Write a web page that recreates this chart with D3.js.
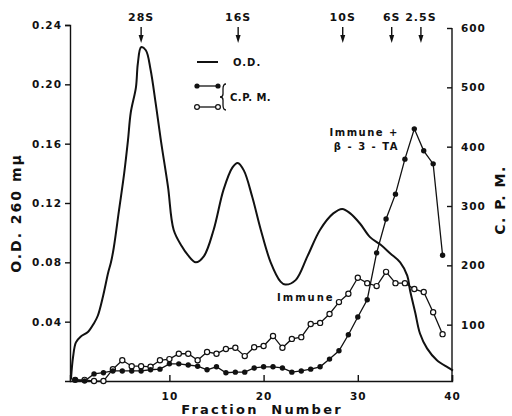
<!DOCTYPE html>
<html lang="en">
<head>
  <meta charset="utf-8">
  <title>Fraction profile</title>
  <script src="https://cdn.jsdelivr.net/npm/d3@7"></script>
  <style>
  body { margin: 0; background: #fff; }
  text { font-family: 'DejaVu Sans', sans-serif; font-weight: bold; fill: #111; }
  .axis path, .axis line { stroke: #111; stroke-width: 1.4; }
  .axis text { font-size: 10.5px; letter-spacing: 1px; }
  </style>
</head>
<body>
<script>
// fractions 0..39, c.p.m.
var fractions = d3.range(0, 40);
var cpmImmune = [7, 7, 5, 5, 25, 40, 30, 30, 29, 40,
  42, 51, 51, 40, 54, 51, 59, 61, 47, 62,
  64, 81, 61, 76, 79, 101, 103, 118, 138, 152,
  179, 170, 165, 189, 170, 170, 160, 155, 121, 84];
var cpmImmuneTA = [7, 5, 17, 19, 22, 22, 22, 22, 24, 25,
  34, 34, 32, 30, 24, 29, 19, 20, 20, 27,
  29, 29, 27, 20, 22, 25, 29, 42, 56, 83,
  113, 142, 221, 278, 320, 379, 430, 393, 371, 217];

// O.D. trace, sampled along the drawn curve
var odFraction = [-0.45, -0.23, 0.08, 0.6, 1.35, 2.0, 2.4, 2.95, 3.5, 3.8, 4.1, 4.65, 5.2, 5.6, 5.9, 6.45, 6.65, 7.0,
  7.5, 8.0, 8.55, 9.1, 9.85, 10.45, 11.3, 11.95, 12.8, 13.65, 14.7, 15.75, 16.7, 17.25, 17.9, 18.8,
  19.7, 20.75, 21.8, 22.3, 23.4, 24.65, 26.0, 27.4, 28.35, 29.2, 30.25, 31.3, 32.4, 33.45, 34.5,
  35.25, 35.55, 36.1, 36.6, 37.35, 38.4, 39.6, 40.1];
var odValue = [0.001, 0.016, 0.026, 0.030, 0.033, 0.039, 0.044, 0.057, 0.073, 0.080, 0.090, 0.115, 0.140, 0.162, 0.181, 0.198, 0.214, 0.225,
  0.223, 0.210, 0.187, 0.162, 0.131, 0.102, 0.091, 0.085, 0.080, 0.084, 0.102, 0.129, 0.144, 0.147, 0.142, 0.124,
  0.102, 0.080, 0.067, 0.065, 0.068, 0.084, 0.102, 0.113, 0.116, 0.113, 0.106, 0.097, 0.092, 0.086, 0.080,
  0.071, 0.061, 0.046, 0.032, 0.022, 0.014, 0.009, 0.007];

// sedimentation markers
var markerLabels = ['28S', '16S', '10S', '6S', '2.5S'];
var markerFraction = [7.0, 17.3, 28.4, 33.6, 36.7];

var odTicks = [0.04, 0.08, 0.12, 0.16, 0.20, 0.24];
var cpmTicks = [100, 200, 300, 400, 500, 600];
var fractionTicks = [10, 20, 30, 40];

var width = 512, height = 416;
var svg = d3.select('body').append('svg')
  .attr('width', width)
  .attr('height', height);

var x = d3.scaleLinear().domain([-0.55, 40]).range([70, 452]);
var yOD = d3.scaleLinear().domain([0, 0.24]).range([381, 25]);
var yCPM = d3.scaleLinear().domain([0, 600]).range([384, 28]);

// axes
svg.append('g').attr('class', 'axis')
  .attr('transform', 'translate(70,0)')
  .call(d3.axisLeft(yOD).tickValues(odTicks).tickFormat(d3.format('.2f'))
    .tickSizeOuter(0).tickSize(5).tickPadding(3));

svg.append('g').attr('class', 'axis')
  .attr('transform', 'translate(452,0)')
  .call(d3.axisRight(yCPM).tickValues(cpmTicks).tickSizeOuter(0).tickSize(-5).tickPadding(9));
svg.selectAll('.axis').filter(function(d, i) { return i == 1; }).select('path')
  .attr('d', 'M0,' + yCPM(600) + 'V381');

svg.append('g').attr('class', 'axis')
  .attr('transform', 'translate(0,381)')
  .call(d3.axisBottom(x).tickValues(fractionTicks).tickSizeOuter(0).tickSize(-6).tickPadding(12));

// axis titles
svg.append('text')
  .attr('transform', 'translate(21,213) rotate(-90)')
  .attr('text-anchor', 'middle')
  .style('font-size', '14px').style('letter-spacing', '2px')
  .text('O.D. 260 mμ');

svg.append('text')
  .attr('transform', 'translate(505,200) rotate(-90)')
  .attr('text-anchor', 'middle')
  .style('font-size', '14px').style('letter-spacing', '1.5px')
  .text('C. P. M.');

svg.append('text')
  .attr('x', 262).attr('y', 414)
  .attr('text-anchor', 'middle')
  .style('font-size', '13px').style('letter-spacing', '2.2px').style('word-spacing', '6px')
  .text('Fraction Number');

// O.D. curve
var odLine = d3.line()
  .x(function(d, i) { return x(odFraction[i]); })
  .y(function(d) { return yOD(d); })
  .curve(d3.curveCatmullRom);

svg.append('path')
  .attr('d', odLine(odValue))
  .attr('fill', 'none')
  .attr('stroke', '#111')
  .attr('stroke-width', 2);

// c.p.m. series
var cpmLine = d3.line()
  .x(function(d, i) { return x(fractions[i]); })
  .y(function(d) { return yCPM(d); });

svg.append('path').attr('d', cpmLine(cpmImmune))
  .attr('fill', 'none').attr('stroke', '#111').attr('stroke-width', 1.3);
svg.append('path').attr('d', cpmLine(cpmImmuneTA))
  .attr('fill', 'none').attr('stroke', '#111').attr('stroke-width', 1.3);

svg.append('g').selectAll('circle')
  .data(cpmImmune)
  .enter()
  .append('circle')
  .attr('cx', function(d, i) { return x(fractions[i]); })
  .attr('cy', function(d) { return yCPM(d); })
  .attr('r', 2.6)
  .attr('fill', '#fff')
  .attr('stroke', '#111')
  .attr('stroke-width', 1.2);

svg.append('g').selectAll('circle')
  .data(cpmImmuneTA)
  .enter()
  .append('circle')
  .attr('cx', function(d, i) { return x(fractions[i]); })
  .attr('cy', function(d) { return yCPM(d); })
  .attr('r', 2.7)
  .attr('fill', '#111');

// markers at the top
var markers = svg.append('g').selectAll('g')
  .data(markerLabels)
  .enter()
  .append('g')
  .attr('transform', function(d, i) { return 'translate(' + x(markerFraction[i]) + ',0)'; });
markers.append('text')
  .attr('y', 21)
  .attr('text-anchor', 'middle')
  .style('font-size', '11px').style('letter-spacing', '1px')
  .text(function(d) { return d; });
markers.append('line')
  .attr('y1', 27).attr('y2', 38)
  .attr('stroke', '#111').attr('stroke-width', 1.4);
markers.append('path')
  .attr('d', 'M-2.5,35L2.5,35L0,43Z')
  .attr('fill', '#111');

// legend
var legend = svg.append('g');
legend.append('line').attr('x1', 197).attr('x2', 218).attr('y1', 62).attr('y2', 62)
  .attr('stroke', '#111').attr('stroke-width', 2);
legend.append('text').attr('x', 233).attr('y', 66)
  .style('font-size', '10px').style('letter-spacing', '1px').text('O.D.');
legend.append('line').attr('x1', 197).attr('x2', 218).attr('y1', 86).attr('y2', 86)
  .attr('stroke', '#111').attr('stroke-width', 1.3);
legend.selectAll('.lf').data([197, 218]).enter().append('circle')
  .attr('cx', function(d) { return d; }).attr('cy', 86).attr('r', 2.6).attr('fill', '#111');
legend.append('line').attr('x1', 197).attr('x2', 218).attr('y1', 107).attr('y2', 107)
  .attr('stroke', '#111').attr('stroke-width', 1.3);
legend.selectAll('.lo').data([197, 218]).enter().append('circle')
  .attr('cx', function(d) { return d; }).attr('cy', 107).attr('r', 2.4)
  .attr('fill', '#fff').attr('stroke', '#111').attr('stroke-width', 1.2);
legend.append('path')
  .attr('d', 'M226,84 Q223,84 223,89 L223,94 Q223,97 220,97 Q223,97 223,100 L223,105 Q223,110 226,110')
  .attr('fill', 'none').attr('stroke', '#111').attr('stroke-width', 1.3);
legend.append('text').attr('x', 230).attr('y', 101)
  .style('font-size', '10px').style('letter-spacing', '0.5px').text('C.P. M.');

// series notes
svg.append('text').attr('x', 399).attr('y', 136).attr('text-anchor', 'end')
  .style('font-size', '10px').style('letter-spacing', '1.5px').text('Immune +');
svg.append('text').attr('x', 399).attr('y', 150).attr('text-anchor', 'end')
  .style('font-size', '10px').style('letter-spacing', '1.5px').text('β - 3 - TA');
svg.append('text').attr('x', 277).attr('y', 301)
  .style('font-size', '10px').style('letter-spacing', '2px').text('Immune');
</script>
</body>
</html>
